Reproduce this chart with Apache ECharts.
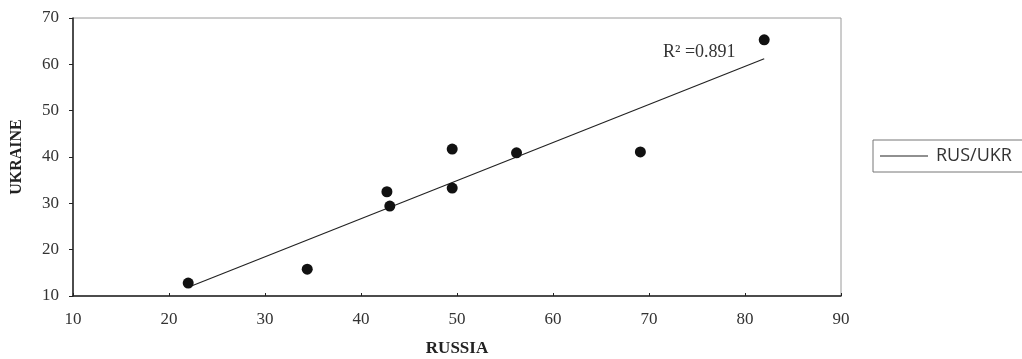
<!DOCTYPE html>
<html>
<head>
<meta charset="utf-8">
<script src="https://cdn.jsdelivr.net/npm/echarts@6/dist/echarts.min.js"></script>
<style>
html,body{margin:0;padding:0;background:#fff;}
#c{width:1022px;height:359px;}
</style>
</head>
<body>
<div id="c"></div>
<script>
// Data
const russia  = [22.0, 34.4, 42.7, 43.0, 49.5, 49.5, 56.2, 69.1, 82.0];
const ukraine = [12.8, 15.8, 32.5, 29.4, 33.3, 41.7, 40.9, 41.1, 65.3];
const trendX  = [22.4, 82.0];
const trendY  = [12.2, 61.2];
const xTicks  = [10, 20, 30, 40, 50, 60, 70, 80, 90];
const yTicks  = [10, 20, 30, 40, 50, 60, 70];
const seriesName = 'RUS/UKR';
const r2Label = 'R² =0.891';

const points = russia.map((x, i) => [x, ukraine[i]]);
const trend = trendX.map((x, i) => [x, trendY[i]]);

const serif = '"Liberation Serif","DejaVu Serif",serif';
const chart = echarts.init(document.getElementById('c'), null, {renderer: 'canvas'});
chart.setOption({
  backgroundColor: '#ffffff',
  animation: false,
  grid: {left: 73, right: 181, top: 18, bottom: 63, show: true, borderColor: '#9a9a9a', borderWidth: 1,
         containLabel: false, outerBoundsMode: 'none'},
  legend: {
    data: [seriesName],
    left: 873, top: 140,
    orient: 'horizontal',
    icon: 'rect',
    itemWidth: 48, itemHeight: 1, itemGap: 0,
    padding: [7, 40, 7, 7],
    borderColor: '#777', borderWidth: 1,
    textStyle: {fontFamily: '"Open Sans","DejaVu Sans",sans-serif', fontSize: 18, color: '#333', padding: [0,0,0,3]}
  },
  xAxis: {
    type: 'value', min: xTicks[0], max: xTicks[xTicks.length-1], interval: 10,
    name: 'RUSSIA', nameLocation: 'middle', nameGap: 44,
    nameTextStyle: {fontFamily: serif, fontWeight: 'bold', fontSize: 17, color: '#222'},
    axisLine: {show: true, lineStyle: {color: '#222', width: 1.5}},
    axisTick: {show: true, length: 3, inside: true, lineStyle: {color: '#222'}},
    axisLabel: {fontFamily: serif, fontSize: 17, color: '#333', margin: 15},
    splitLine: {show: false}
  },
  yAxis: {
    type: 'value', min: yTicks[0], max: yTicks[yTicks.length-1], interval: 10,
    name: 'UKRAINE', nameLocation: 'middle', nameGap: 48, nameRotate: 90,
    nameTextStyle: {fontFamily: serif, fontWeight: 'bold', fontSize: 16, color: '#222'},
    axisLine: {show: true, lineStyle: {color: '#222', width: 1.5}},
    axisTick: {show: true, length: 4, lineStyle: {color: '#222'}},
    axisLabel: {fontFamily: serif, fontSize: 17, color: '#333', margin: 14},
    splitLine: {show: false}
  },
  series: [
    {
      type: 'scatter', name: 'points', data: points,
      symbol: 'circle', symbolSize: 11,
      itemStyle: {color: '#111', opacity: 1}, z: 3
    },
    {
      type: 'line', name: seriesName, data: trend,
      showSymbol: false, symbol: 'none',
      lineStyle: {color: '#222', width: 1.2},
      itemStyle: {color: '#222'}, z: 2
    }
  ],
  graphic: [
    {type: 'text', left: 663, top: 43, style: {text: r2Label, font: '18px ' + serif, fill: '#333'}}
  ]
});
</script>
</body>
</html>
